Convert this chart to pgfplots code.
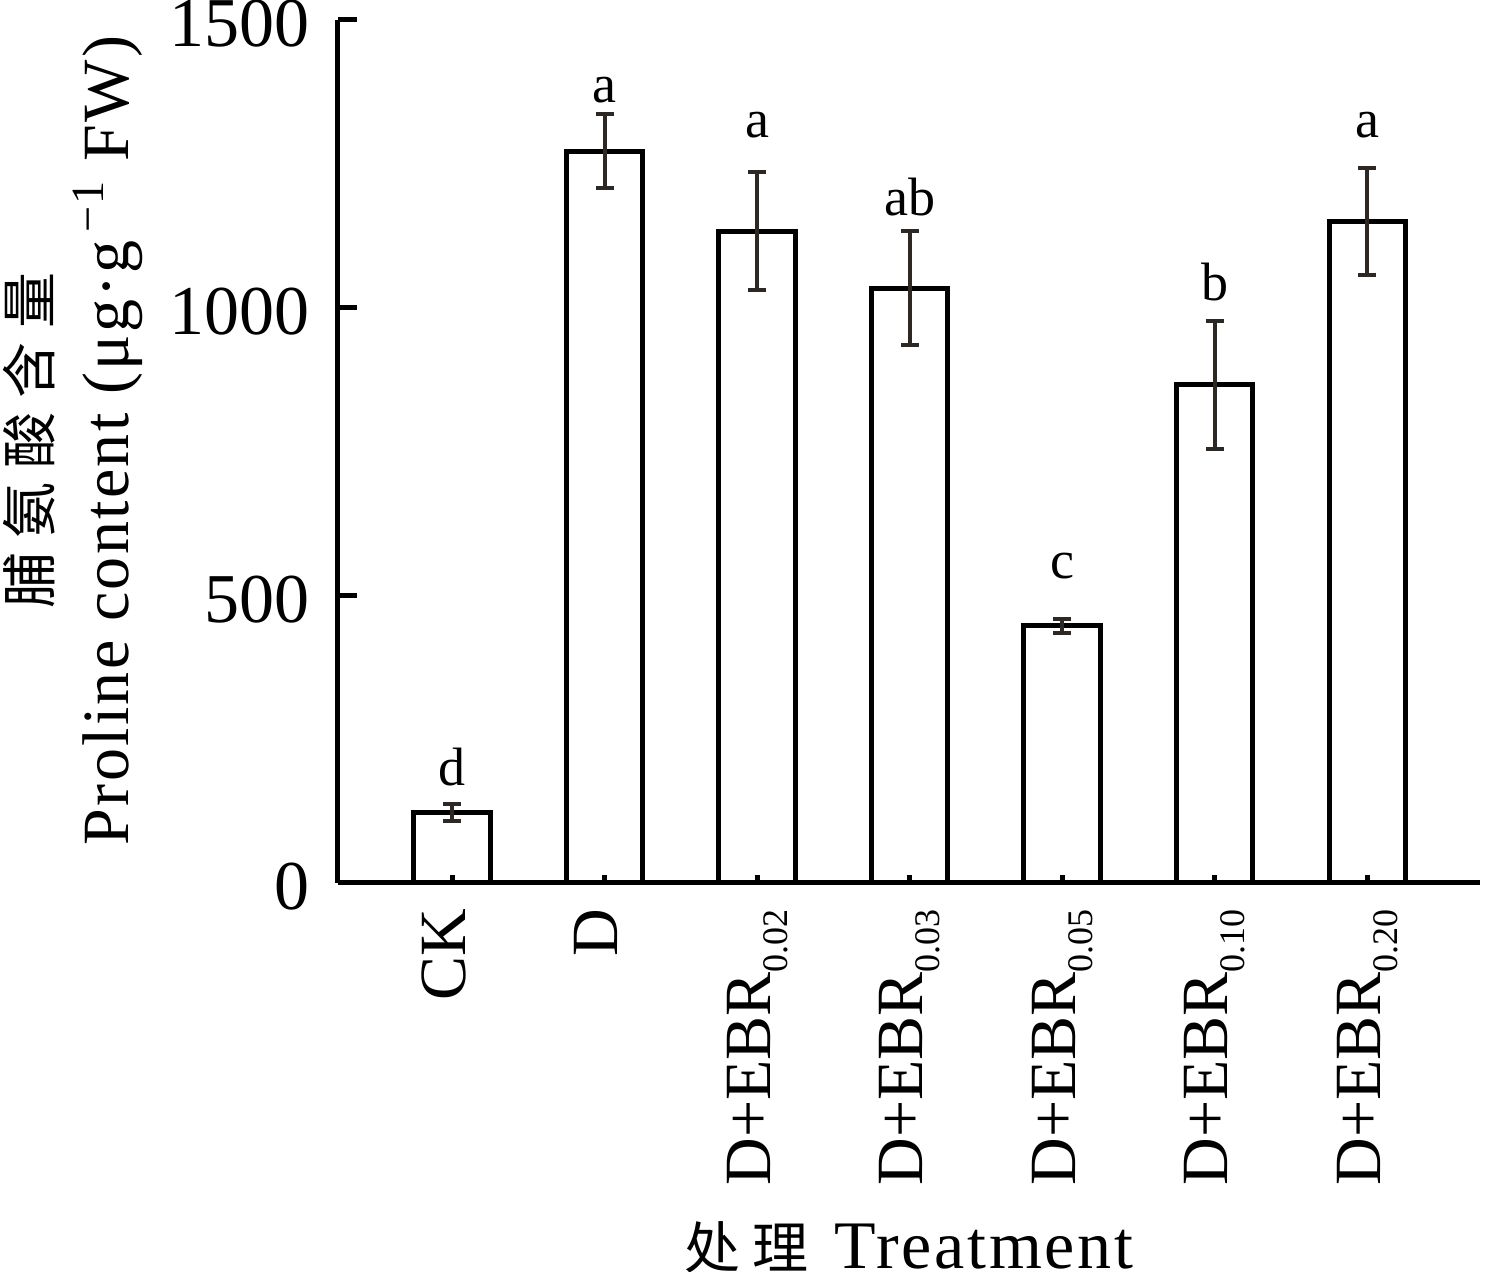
\documentclass[border=0pt]{standalone}
\usepackage{pgfplots}
\usepackage{pgfplotstable}
\pgfplotsset{compat=1.18}
\usepackage{fontspec}
\setmainfont{Liberation Serif}
\newfontfamily\cjk{Noto Sans CJK SC}
\definecolor{errc}{RGB}{46,40,36}
\newcommand{\sub}[1]{\raisebox{-4.25pt}{\fontsize{9}{9}\selectfont #1}}
\pgfplotstableread{
x y err
0 122 15
1 1272 64
2 1133 103
3 1034 99
4 447 12
5 866 111
6 1149 93
}\bars
\pgfplotstableread{
x y lab
0 170 d
1 1356 a
2 1295 a
3 1161 ab
4 530 c
5 1013 b
6 1295 a
}\letters
\begin{document}
\begin{tikzpicture}
\begin{axis}[
  scale only axis, width=285.5pt, height=215.75pt,
  xmin=-0.748, xmax=6.74, ymin=0, ymax=1500,
  axis x line=bottom, axis y line=left,
  axis line style={-, line width=1.25pt},
  axis on top,
  tick align=inside,
  major tick length=4.75pt,
  xtick={0,1,2,3,4,5,6},
  xticklabels={CK, D, D+EBR\sub{0.02}, D+EBR\sub{0.03}, D+EBR\sub{0.05}, D+EBR\sub{0.10}, D+EBR\sub{0.20}},
  ytick={0,500,1000,1500},
  x tick style={line width=1.25pt, black, /pgfplots/major tick length=2pt},
  y tick style={line width=1.25pt, black},
  xticklabel style={rotate=90, anchor=east, inner xsep=6.5pt, inner ysep=0pt, outer sep=0pt, text height=6.5pt, text depth=0pt, font=\fontsize{16.5}{18}\selectfont},
  yticklabel style={inner sep=0pt, xshift=-7pt, yshift=-1pt, font=\fontsize{17.5}{18}\selectfont},
  /pgf/number format/assume math mode=true,
  /pgf/number format/1000 sep={},
  ylabel={{\cjk\fontsize{14}{19.5}\selectfont 脯\hspace{3.5pt}氨\hspace{3.5pt}酸\hspace{3.5pt}含\hspace{3.5pt}量}\\{\addfontfeatures{LetterSpace=3.5}Proline content (μg·g\textsuperscript{\,−1}\ FW)}},
  ylabel style={at={(axis description cs:-0.1702,0.513)}, anchor=south, align=center, inner sep=0pt, font=\fontsize{16.5}{19.5}\selectfont},
  xlabel={{\cjk\fontsize{14}{19}\selectfont 处\hspace{3pt}理}\hspace{6.5pt}{\addfontfeatures{LetterSpace=4}Treatment}},
  xlabel style={at={(axis description cs:0.5,0)}, anchor=base, inner sep=0pt, yshift=-96.25pt, font=\fontsize{17}{19}\selectfont},
  clip=false,
]
\addplot[ybar, bar width=0.5, fill=white, draw=black, line width=1.25pt,
  error bars/.cd, y dir=both, y explicit,
  error bar style={line width=1pt, color=errc},
  error mark options={rotate=90, mark size=2.25pt, line width=1pt, color=errc}]
  table[x=x, y=y, y error=err] {\bars};
\addplot[draw=none, mark=none, nodes near coords, point meta=explicit symbolic,
  nodes near coords style={anchor=base, inner sep=0pt, font=\fontsize{13.5}{15}\selectfont}]
  table[x=x, y=y, meta=lab] {\letters};
\coordinate (SW) at (rel axis cs:0,0);
\coordinate (NE) at (rel axis cs:1,1);
\end{axis}
\pgfresetboundingbox
\path[use as bounding box] ([shift={(-84.5pt,-97.25pt)}]SW) rectangle ([shift={(1.5pt,5pt)}]NE);
\end{tikzpicture}
\end{document}
